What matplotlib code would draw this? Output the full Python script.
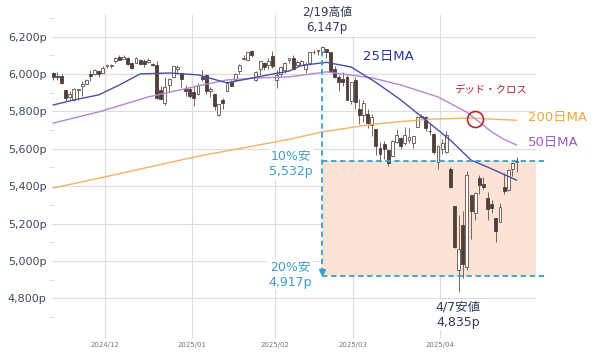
#!/usr/bin/env python3
import matplotlib
import matplotlib.pyplot as plt
import pandas as pd

matplotlib.use("Agg")
plt.rcParams["font.family"] = ["DejaVu Sans", "Noto Sans CJK JP"]

HOLIDAYS = ["2024-11-28", "2024-12-25", "2025-01-01", "2025-01-09",
            "2025-01-20", "2025-02-17", "2025-04-18"]
DATES = pd.bdate_range("2024-11-12", "2025-04-28", freq="C", holidays=HOLIDAYS)

# daily OHLC (points)
OPEN = [6003, 5986, 5990, 5912, 5874, 5860, 5914, 5933, 5944, 6000, 6000, 6015, 6003,
        6040, 6042, 6069, 6089, 6081, 6084, 6058, 6061, 6075, 6068, 6064, 6053, 6047,
        5913, 5842, 5940, 5984, 6024, 6006, 5920, 5920,
        5903, 5892, 5982, 5994, 5910, 5890, 5782, 5863, 5906, 5958, 5969, 6015, 6082,
        6076, 6121, 5970, 6026, 6058, 6050, 6096,
        5969, 5998, 6020, 6072, 6083, 6048, 6049, 6025, 6061, 6115, 6122, 6118, 6134,
        6115, 6027, 5983, 5971, 5981, 5857,
        5968, 5811, 5781, 5785, 5726, 5705, 5603, 5624, 5594, 5563, 5635, 5655, 5632,
        5646, 5631, 5718, 5771, 5771, 5696, 5679, 5527,
        5597, 5581, 5492, 5292, 4953, 5194, 4966, 5354, 5255, 5442, 5412, 5335, 5306,
        5232, 5207, 5395, 5381, 5489, 5529]
HIGH = [6010, 6009, 6000, 5915, 5909, 5923, 5920, 5963, 5972, 6020, 6025, 6020, 6044,
        6053, 6052, 6089, 6099, 6099, 6089, 6065, 6093, 6079, 6078, 6085, 6058, 6070,
        5935, 5982, 5978, 6040, 6049, 6007, 5941, 5929,
        5936, 5949, 6021, 6001, 5928, 5890, 5837, 5872, 5960, 5965, 6003, 6054, 6100,
        6119, 6129, 6018, 6069, 6063, 6087, 6120,
        6022, 6042, 6062, 6084, 6101, 6074, 6076, 6063, 6116, 6127, 6129, 6147, 6134,
        6119, 6044, 5992, 6010, 5994, 5959,
        5986, 5866, 5860, 5812, 5783, 5705, 5636, 5642, 5597, 5645, 5703, 5665, 5716,
        5711, 5670, 5775, 5786, 5777, 5732, 5685, 5620,
        5651, 5695, 5500, 5292, 5247, 5268, 5482, 5354, 5370, 5460, 5450, 5368, 5328,
        5232, 5309, 5470, 5489, 5528, 5554]
LOW = [5966, 5969, 5945, 5853, 5866, 5853, 5860, 5884, 5944, 5963, 5993, 5984, 6003,
       6034, 6034, 6061, 6073, 6079, 6048, 6028, 6060, 6051, 6035, 6059, 6040, 5867,
       5866, 5832, 5903, 5983, 6007, 5932, 5880, 5869,
       5829, 5889, 5960, 5890, 5874, 5809, 5773, 5812, 5906, 5936, 5967, 6002, 6076,
       6075, 6089, 5962, 5993, 6020, 6027, 6031,
       5923, 5990, 6007, 6058, 6019, 6048, 6043, 6003, 6050, 6107, 6100, 6111, 6085,
       6008, 5979, 5908, 5933, 5858, 5837,
       5810, 5732, 5743, 5711, 5666, 5564, 5529, 5546, 5505, 5563, 5631, 5597, 5621,
       5632, 5603, 5718, 5765, 5694, 5671, 5572, 5489,
       5573, 5578, 5391, 5070, 4835, 4910, 4950, 5116, 5220, 5358, 5386, 5220, 5255,
       5101, 5207, 5359, 5372, 5455, 5478]
CLOSE = [5983, 5985, 5949, 5870, 5893, 5917, 5917, 5948, 5969, 5987, 6021, 5999, 6032,
         6047, 6050, 6086, 6075, 6090, 6053, 6034, 6085, 6051, 6051, 6074, 6050, 5872,
         5867, 5931, 5974, 6040, 6037, 5971, 5907, 5882,
         5869, 5942, 5975, 5909, 5918, 5827, 5837, 5843, 5950, 5937, 5997, 6049, 6086,
         6119, 6101, 6012, 6068, 6039, 6071, 6041,
         5994, 6037, 6061, 6084, 6026, 6066, 6068, 6051, 6115, 6115, 6129, 6144, 6117,
         6013, 5983, 5955, 5956, 5861, 5955,
         5850, 5778, 5843, 5739, 5770, 5615, 5572, 5599, 5522, 5639, 5675, 5615, 5675,
         5663, 5668, 5768, 5777, 5712, 5693, 5581, 5612,
         5633, 5671, 5397, 5074, 5062, 4983, 5457, 5268, 5363, 5406, 5397, 5276, 5283,
         5158, 5288, 5376, 5485, 5525, 5529]

# moving averages, sampled off the chart
MA25 = [("2024-11-12", 5834), ("2024-11-19", 5861), ("2024-11-27", 5888),
        ("2024-12-05", 5941), ("2024-12-12", 6000), ("2024-12-23", 6005),
        ("2025-01-03", 5995), ("2025-01-15", 5952), ("2025-01-30", 5995),
        ("2025-02-06", 6015), ("2025-02-11", 6045), ("2025-02-20", 6062),
        ("2025-02-28", 6037), ("2025-03-10", 5955), ("2025-03-18", 5861),
        ("2025-03-26", 5754), ("2025-04-03", 5646), ("2025-04-10", 5539),
        ("2025-04-16", 5502), ("2025-04-28", 5432)]
MA50 = [("2024-11-12", 5737), ("2024-11-27", 5797), ("2024-12-16", 5877),
        ("2025-01-03", 5936), ("2025-01-15", 5968), ("2025-01-28", 5979),
        ("2025-02-06", 5984), ("2025-02-20", 6011), ("2025-03-07", 5979),
        ("2025-03-18", 5941), ("2025-03-31", 5877), ("2025-04-09", 5795),
        ("2025-04-11", 5760), ("2025-04-17", 5690), ("2025-04-23", 5650),
        ("2025-04-28", 5620)]
MA200 = [("2024-11-12", 5390), ("2024-12-02", 5452), ("2025-01-03", 5560),
         ("2025-02-06", 5650), ("2025-02-19", 5690), ("2025-03-07", 5730),
         ("2025-03-18", 5745), ("2025-03-27", 5758), ("2025-04-10", 5764),
         ("2025-04-28", 5752)]

PEAK_DATE, PEAK = "2025-02-19", 6147
TROUGH_DATE, TROUGH = "2025-04-07", 4835
DOWN10, DOWN20 = 5532, 4917
CROSS_DATE, CROSS = "2025-04-11", 5760

UP_EDGE = "#5e5049"
DOWN_FILL = "#4e3f38"
TEAL = "#3a9fc8"


def idx(d):
    return DATES.get_loc(pd.Timestamp(d))


def ma_line(points):
    return [idx(d) for d, _ in points], [v for _, v in points]


fig = plt.figure(figsize=(6, 3.55), dpi=100)
ax = fig.add_axes([52 / 600, 1 - 338 / 355, 484 / 600, 323 / 355])
xmax = 116.7
ax.set_xlim(-0.3, xmax)
ax.set_ylim(4588, 6315)

# grid
for v in range(4800, 6201, 200):
    ax.axhline(v, color="#dcdcdc", lw=0.8, zorder=0)
months = []
for i in range(1, len(DATES)):
    if DATES[i].month != DATES[i - 1].month:
        months.append(i)
for m in months:
    ax.axvline(m - 0.5, color="#dcdcdc", lw=0.8, zorder=0)

peak_x = idx(PEAK_DATE)
# shaded drawdown box
ax.fill_between([peak_x, xmax], DOWN20, DOWN10, color="#fce3d5", lw=0, zorder=0.5)

# candles
n = len(CLOSE)
xs = list(range(n))
ax.vlines(xs, LOW, HIGH, color=UP_EDGE, lw=0.6, zorder=2)
for i in xs:
    o, c = OPEN[i], CLOSE[i]
    lo, h = min(o, c), max(abs(c - o), 3)
    if c >= o:
        ax.bar(i, h, 0.7, bottom=lo, color="white", edgecolor=UP_EDGE, lw=0.6, zorder=3)
    else:
        ax.bar(i, h, 0.7, bottom=lo, color=DOWN_FILL, edgecolor=DOWN_FILL, lw=0.6, zorder=3)

# moving averages
ax.plot(*ma_line(MA200), color="#f2b266", lw=1.0, zorder=4)
ax.plot(*ma_line(MA50), color="#b487d6", lw=1.0, zorder=4)
ax.plot(*ma_line(MA25), color="#4a4fa6", lw=1.0, zorder=4)

# drawdown guides
ax.plot([peak_x, 118.9], [DOWN10, DOWN10], color=TEAL, lw=1.3, ls=(0, (3, 2)),
        clip_on=False, zorder=5)
ax.plot([peak_x, 118.9], [DOWN20, DOWN20], color=TEAL, lw=1.3, ls=(0, (3, 2)),
        clip_on=False, zorder=5)
ax.plot([peak_x, peak_x], [6125, DOWN20 + 25], color=TEAL, lw=1.3, ls=(0, (3, 2)), zorder=5)
ax.plot(peak_x, DOWN20 + 25, marker="v", ms=4.5, color=TEAL, zorder=5)

# dead cross
ax.plot(idx(CROSS_DATE), CROSS, marker="o", ms=11.5, mfc="none", mec="#b0282e",
        mew=1.2, zorder=6)

box = dict(facecolor="white", edgecolor="none", pad=1)
ax.text(peak_x + 1.2, 6289, "2/19高値\n6,147p", ha="center", va="center",
        fontsize=8.5, color="#2f3d5a", linespacing=1.3, bbox=box, zorder=7)
ax.text(74.9, 6091, "25日MA", ha="left", va="center", fontsize=9.5,
        color="#2e3192", zorder=7)
ax.text(105.8, 5920, "デッド・クロス", ha="center", va="center", fontsize=7.5,
        color="#b0282e", zorder=7)
ax.text(114.8, 5765, "200日MA", ha="left", va="center", fontsize=9.5,
        color="#f0a640", zorder=7)
ax.text(114.8, 5631, "50日MA", ha="left", va="center", fontsize=9.5,
        color="#9a5cc6", zorder=7)
ax.text(57.5, 5521, "10%安\n5,532p", ha="center", va="center", fontsize=9,
        color=TEAL, linespacing=1.25, bbox=box, zorder=7)
ax.text(57.2, 4928, "20%安\n4,917p", ha="center", va="center", fontsize=9,
        color=TEAL, linespacing=1.25, bbox=box, zorder=7)
ax.text(idx(TROUGH_DATE) - 0.2, 4714, "4/7安値\n4,835p", ha="center", va="center",
        fontsize=9, color="#2f3d5a", linespacing=1.25, bbox=box, zorder=7)

# axes styling
for s in ax.spines.values():
    s.set_visible(False)
ax.set_yticks(range(4800, 6201, 200))
ax.set_yticklabels([f"{v:,}p" for v in range(4800, 6201, 200)])
ax.set_yticks(range(4700, 6301, 100), minor=True)
ax.tick_params(axis="y", which="major", length=0, pad=4, labelsize=8, labelcolor="#3b4a5e")
ax.tick_params(axis="y", which="minor", length=3, width=0.6, color="#cfcfcf", direction="inout")
ax.set_xticks([m - 0.5 for m in months])
ax.set_xticklabels([DATES[m].strftime("%Y/%m") for m in months])
ax.tick_params(axis="x", length=0, pad=3, labelsize=5, labelcolor="#777777")

fig.savefig("out.png", dpi=100, facecolor="white")
